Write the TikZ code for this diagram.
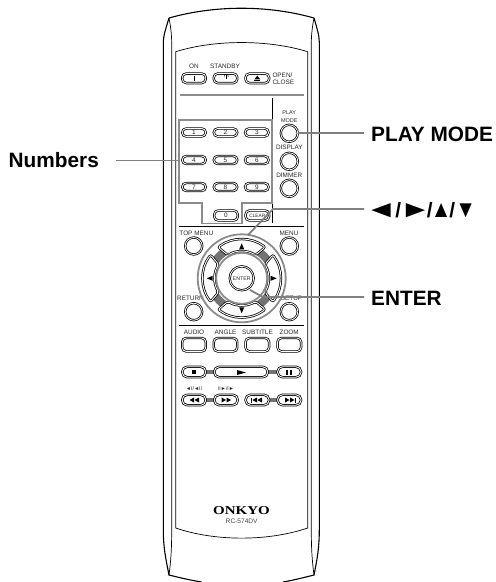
\documentclass[tikz,border=0pt]{standalone}
\usepackage{fontspec}
\usepackage{graphicx}
\setmainfont{Liberation Sans}
\newfontfamily\onkyofont{Liberation Serif}
\usetikzlibrary{calc}
\newcommand{\gl}[2]{\makebox[#1pt][c]{#2}}
\begin{document}
\begin{tikzpicture}[x=1pt,y=-1pt,
 body/.style={draw=black,line width=1.1pt},
 hair/.style={draw=black,line width=.7pt},
 callout/.style={draw=black!50,line width=1.8pt},
 greyline/.style={draw=black!45,line width=1.8pt},
 bar/.style={draw=black!55,line width=4pt},
 btn/.style={draw=black,line width=.75pt,rounded corners=4pt,minimum width=23.5pt,inner sep=0pt,fill=white,double=white,double distance=.9pt},
 lab/.style={font=\fontsize{6.4}{7}\selectfont,text=black!85,inner sep=0pt,align=center},
 num/.style={font=\fontsize{6.4}{7}\selectfont,text=black!85,inner sep=0pt},
 big/.style={font=\bfseries\fontsize{20.8}{22}\selectfont,inner sep=0pt,anchor=west},
 rbtn/.style={circle,draw=black,line width=.75pt,minimum size=17pt,inner sep=0pt,double=white,double distance=.8pt,fill=white}]
\useasboundingbox (0,0) rectangle (496,582);
% body
\draw[body] (169,18) .. controls (215,5) and (268,5) .. (314,18)
 .. controls (317,28) and (319.300,36) .. (319.300,42) -- (319.300,530) .. controls (319.300,548) and (317,560) .. (314,575)
 .. controls (302,578) and (292,580.500) .. (283,582);
\draw[body] (169,18) .. controls (166,28) and (163.300,36) .. (163.300,42) -- (163.300,530) .. controls (163.300,548) and (166,560) .. (169,575)
 .. controls (181,578) and (192,580.500) .. (201.500,582);
\draw[hair] (169,18) .. controls (171,28) and (171.700,36) .. (171.700,44) -- (171.700,530) .. controls (171.700,548) and (171,560) .. (169,575);
\draw[hair] (314,18) .. controls (312,28) and (311.300,36) .. (311.300,44) -- (311.300,530) .. controls (311.300,548) and (312,560) .. (314,575);
\draw[hair] (175.700,528) -- (175.700,51.700) .. controls (215,39.500) and (268,39.500) .. (307.700,51.700) -- (307.700,528) .. controls (268,541.500) and (215,541.500) .. (175.700,528);
% dividers
\draw[greyline] (180,94.700) -- (303.500,94.700);
\draw[hair] (272.300,98) -- (272.300,223);
\draw[hair] (179,226) -- (304,226);
\draw[hair] (179,325) -- (304,325);
% bars between transport buttons
\draw[bar] (204,372) -- (216,372);
\draw[bar] (267,372) -- (280,372);
\draw[bar] (204,400) -- (216,400);
\draw[bar] (267,400) -- (280,400);
% numeric keypad outline
\draw[greyline,line join=miter] (179,120) -- (272.300,120) -- (272.300,203) -- (242,203) -- (242,223.500) -- (202,223.500) -- (202,203) -- (179,203) -- cycle;
% buttons
\foreach \n/\x/\y/\h/\t in {on/194/78.300/9.500/{},standby/225.500/78.300/9.500/{},open/257.300/78.300/9.500/{},
 n1/194/132.500/8/1,n2/225.500/132.500/8/2,n3/256.800/132.500/8/3,
 n4/194/160/8/4,n5/225.500/160/8/5,n6/256.800/160/8/6,
 n7/194/187/8/7,n8/225.500/187/8/8,n9/256.800/187/8/9,
 n0/226/215.500/10/0,clear/257.300/215.500/10/{\fontsize{4.8}{5}\selectfont CLEAR},
 aud/194/344.700/13.500/{},ang/225.500/344.700/13.500/{},sub/257.300/344.700/13.500/{},zoom/289.300/344.700/13.500/{}}{
 \node[btn,minimum height=\h pt] (\n) at (\x,\y) {};
 \node[num] at (\n) {\t};
}
\foreach \n/\x/\y/\w in {pstop/194/372/23.500,play/241/372/53.500,ppause/289.300/372/23.500,rew/194/400/23.500,ffw/226/400/23.500,prev/257.300/400/23.500,nxt/289.300/400/23.500}{
 \node[btn,rounded corners=5pt,minimum height=10.500pt,minimum width=\w pt] (\n) at (\x,\y) {};
}
% button glyphs
\draw[line width=.6pt] (194,75.500) -- (194,81);
\draw[line width=.45pt] (226,75.300) -- (226,78.500);
\draw[line width=.45pt] (224.200,77) arc[start angle=200,end angle=-20,radius=2.100pt];
\fill (254.300,79.300) -- (257.300,75.700) -- (260.300,79.300) -- cycle; \fill (254.300,80) rectangle (260.300,80.900);
\fill (192,370) rectangle (196,374);
\fill (237,370) -- (246,372.500) -- (237,375) -- cycle;
\fill (286,369.500) rectangle (288,374.500); \fill (290,369.500) rectangle (292,374.500);
\fill (189.500,400) -- (194,397.500) -- (194,402.500) -- cycle; \fill (194.500,400) -- (199,397.500) -- (199,402.500) -- cycle;
\fill (226,400) -- (221.500,397.500) -- (221.500,402.500) -- cycle; \fill (231,400) -- (226.500,397.500) -- (226.500,402.500) -- cycle;
\fill (251.300,397.500) rectangle (252,402.500); \fill (252.300,400) -- (257,397.500) -- (257,402.500) -- cycle; \fill (257.300,400) -- (262,397.500) -- (262,402.500) -- cycle;
\fill (289.500,400) -- (285,397.500) -- (285,402.500) -- cycle; \fill (294.500,400) -- (290,397.500) -- (290,402.500) -- cycle; \fill (294.800,397.500) rectangle (295.500,402.500);
% round buttons
\foreach \n/\x/\y in {pm/289.300/133.300,disp/289.300/161.300,dim/289.300/188.300,tm/193.700/246,menu/289.300/246,ret/193.700/311.700,setup/289.300/311.700}{
 \node[rbtn] (\n) at (\x,\y) {};
}
% labels
\node[lab] at (194,66.700) {ON};
\node[lab] at (225,66.700) {STANDBY};
\node[lab,align=left,anchor=west,font=\fontsize{6.4}{6.8}\selectfont] at (272.300,78.700) {OPEN/\\CLOSE};
\node[lab,font=\fontsize{5.5}{8.300}\selectfont] at (289.300,116.500) {PLAY\\MODE};
\node[lab] at (289.300,147.300) {DISPLAY};
\node[lab] at (289.300,175) {DIMMER};
\node[lab] at (196.300,233.300) {TOP MENU};
\node[lab] at (289,233.300) {MENU};
\node[lab] at (190.500,298.300) {RETURN};
\node[lab] at (291.500,298.300) {SETUP};
\node[lab] at (194,332.300) {AUDIO};
\node[lab] at (225.500,332.300) {ANGLE};
\node[lab] at (257.500,332.300) {SUBTITLE};
\node[lab] at (289.200,332.300) {ZOOM};
\node[lab,font=\fontsize{5.2}{6}\selectfont] at (194,389) {◄I/◄II};
\node[lab,font=\fontsize{5.2}{6}\selectfont] at (226,389) {II►/I►};
% D-pad
\coordinate (pc) at (241.700,278.300);
\draw[greyline] (pc) circle (44pt);
\draw[draw=black!55,line width=8pt] (pc) circle (31.500pt);
\foreach \a in {90,180,270,0}{
 \path[draw=black,line width=.75pt,double=white,double distance=.9pt,fill=white,rounded corners=2pt,shift={(pc)}]
  (\a-37:39pt) arc[start angle=\a-37,end angle=\a+37,radius=39pt]
  -- (\a+31:27pt) arc[start angle=\a+31,end angle=\a-31,radius=27pt] -- cycle;
}
\fill ($(pc)+(-2.500,-29)$) -- ($(pc)+(0,-35)$) -- ($(pc)+(2.500,-29)$) -- cycle;
\fill ($(pc)+(-2.500,29)$) -- ($(pc)+(0,35)$) -- ($(pc)+(2.500,29)$) -- cycle;
\fill ($(pc)+(-29,-2.500)$) -- ($(pc)+(-35,0)$) -- ($(pc)+(-29,2.500)$) -- cycle;
\fill ($(pc)+(29,-2.500)$) -- ($(pc)+(35,0)$) -- ($(pc)+(29,2.500)$) -- cycle;
\draw[greyline,fill=white] (pc) circle (25.500pt);
\node[rbtn,minimum size=24pt,font=\fontsize{5.3}{6}\selectfont,text=black!85] (enter) at (pc) {ENTER};
% body labels
\node[lab,font=\onkyofont\bfseries\fontsize{12}{13}\selectfont,text=black] (brand) at (241.500,511) {\scalebox{1.25}[1]{ONKYO}};
\node[lab,text=black!75,font=\fontsize{6.6}{7}\selectfont] (model) at (241.700,521.700) {RC-574DV};
% callouts
\node[big] (lnum) at (8.500,160.500) {Numbers};
\node[big] (lpm) at (371,134.800) {PLAY MODE};
\node[big] (larr) at (370,209.800) {\gl{22}{\scalebox{1.55}[1.15]{◄}}\gl{12}{/}\gl{23}{\scalebox{1.55}[1.15]{►}}\gl{5}{/}\gl{18}{\scalebox{1}[1.15]{▲}}\gl{4}{/}\gl{23}{\scalebox{1}[1.15]{▼}}};
\node[big] (lent) at (371,298) {ENTER};
\coordinate (numA) at (179,160.500);
\coordinate (arA) at (248,235);
\coordinate (arB) at (273,209);
\coordinate (enA) at (250,290);
\coordinate (enB) at (263,297);
\coordinate (numB) at (116,160.500);
\coordinate (pmB) at (364,133.300);
\coordinate (arC) at (364,209);
\coordinate (enC) at (364,297);
\draw[callout] (numB) -- (numA);
\draw[callout] (pm.east) -- (pmB);
\draw[callout] (arA) -- (arB) -- (arC);
\draw[callout] (enA) -- (enB) -- (enC);
\end{tikzpicture}
\end{document}
